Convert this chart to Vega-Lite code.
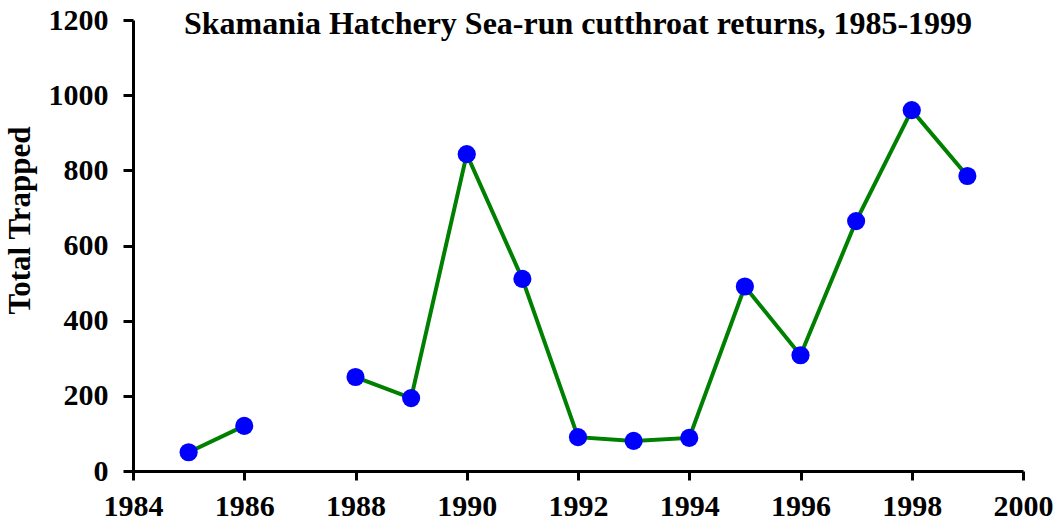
{
  "$schema": "https://vega.github.io/schema/vega-lite/v6.json",
  "width": 890,
  "height": 451,
  "autosize": {"type": "none"},
  "padding": {"left": 133, "top": 20, "right": 34, "bottom": 52},
  "background": "white",
  "title": {
    "text": "Skamania Hatchery Sea-run cutthroat returns, 1985-1999",
    "font": "Liberation Serif",
    "fontSize": 32,
    "fontWeight": "bold",
    "color": "black",
    "anchor": "middle",
    "baseline": "alphabetic",
    "offset": -61
  },
  "data": {
    "values": [
      {"year": 1985, "trapped": 50},
      {"year": 1986, "trapped": 120},
      {"year": 1987, "trapped": null},
      {"year": 1988, "trapped": 250},
      {"year": 1989, "trapped": 194},
      {"year": 1990, "trapped": 843},
      {"year": 1991, "trapped": 511},
      {"year": 1992, "trapped": 90},
      {"year": 1993, "trapped": 80},
      {"year": 1994, "trapped": 88},
      {"year": 1995, "trapped": 491},
      {"year": 1996, "trapped": 308},
      {"year": 1997, "trapped": 665},
      {"year": 1998, "trapped": 960},
      {"year": 1999, "trapped": 785}
    ]
  },
  "encoding": {
    "x": {
      "field": "year",
      "type": "quantitative",
      "scale": {"domain": [1984, 2000], "nice": false, "zero": false},
      "axis": {
        "title": null,
        "values": [1984, 1986, 1988, 1990, 1992, 1994, 1996, 1998, 2000],
        "format": "d",
        "grid": false,
        "domainColor": "black",
        "domainWidth": 3,
        "tickColor": "black",
        "tickWidth": 3,
        "tickSize": 9,
        "labelFont": "Liberation Serif",
        "labelFontSize": 30,
        "labelFontWeight": "bold",
        "labelColor": "black",
        "labelPadding": 11,
        "labelFlush": false,
        "labelOverlap": false
      }
    },
    "y": {
      "field": "trapped",
      "type": "quantitative",
      "scale": {"domain": [0, 1200], "nice": false},
      "axis": {
        "title": "Total Trapped",
        "titleFont": "Liberation Serif",
        "titleFontSize": 31,
        "titleFontWeight": "bold",
        "titleColor": "black",
        "titlePadding": 12,
        "titleY": 200,
        "values": [0, 200, 400, 600, 800, 1000, 1200],
        "format": "d",
        "grid": false,
        "domainColor": "black",
        "domainWidth": 3,
        "tickColor": "black",
        "tickWidth": 3,
        "tickSize": 10,
        "labelFont": "Liberation Serif",
        "labelFontSize": 30,
        "labelFontWeight": "bold",
        "labelColor": "black",
        "labelPadding": 15,
        "labelFlush": false,
        "labelOverlap": false
      }
    }
  },
  "layer": [
    {
      "mark": {"type": "line", "color": "#008000", "strokeWidth": 4, "invalid": "break-paths-filter-domains"}
    },
    {
      "mark": {"type": "point", "shape": "circle", "filled": true, "color": "#0000FF", "opacity": 1, "size": 330}
    }
  ],
  "config": {"view": {"stroke": null}}
}
